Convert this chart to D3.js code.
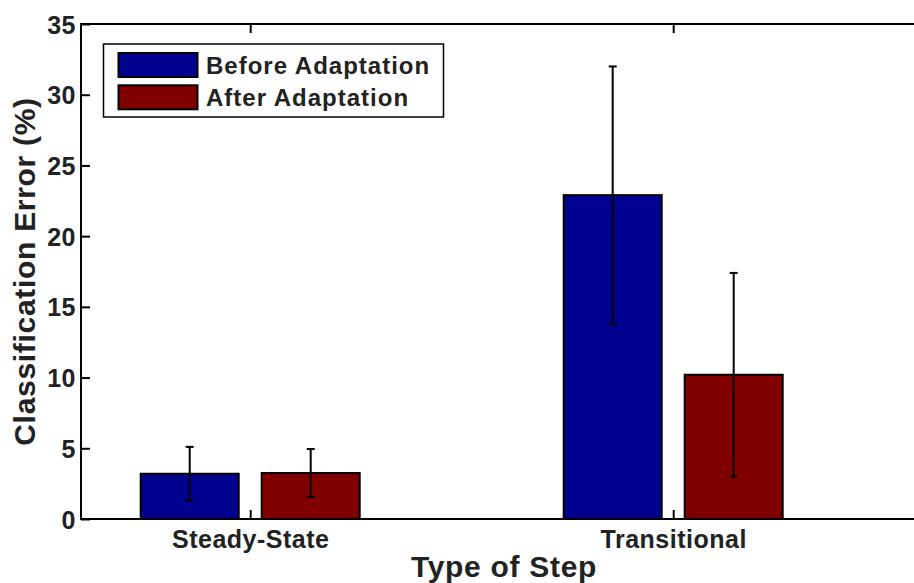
<!DOCTYPE html>
<html>
<head>
<meta charset="utf-8">
<script src="https://cdn.jsdelivr.net/npm/d3@7/dist/d3.min.js"></script>
<style>
  html, body { margin: 0; padding: 0; background: #fff; }
  svg { display: block; }
  text { font-family: "Liberation Sans", Arial, Helvetica, sans-serif; font-weight: bold; fill: #222; }
</style>
</head>
<body>
<svg id="chart" width="914" height="583"></svg>
<script>
// Step types on the x axis
const categories = ["Steady-State", "Transitional"];
// Series shown for each step type
const seriesNames = ["Before Adaptation", "After Adaptation"];
const seriesColors = ["#00008f", "#800000"];
// Mean classification error (%) per series, one value per category
const beforeValues = [3.2, 22.9];
const afterValues = [3.25, 10.2];
// Error bar half-lengths (%)
const beforeErrors = [1.9, 9.1];
const afterErrors = [1.7, 7.2];
// Y axis ticks
const yTicks = [0, 5, 10, 15, 20, 25, 30, 35];

const svg = d3.select("#chart");

const plotLeft = 81, plotRight = 927, plotTop = 24, plotBottom = 519;

// Category positions 1 and 2 on a numeric axis
const x = d3.scaleLinear().domain([0.6, 2.6]).range([plotLeft, plotRight]);
const y = d3.scaleLinear().domain([0, 35]).range([plotBottom, plotTop]);

const groupHalf = 109.5;
const inner = d3.scaleBand().domain(seriesNames).range([-groupHalf, groupHalf]).paddingInner(0.19);

const values = [beforeValues, afterValues];
const errors = [beforeErrors, afterErrors];

const data = [];
categories.forEach((c, ci) => {
  seriesNames.forEach((s, si) => {
    data.push({ cat: c, ci: ci + 1, series: s, si, value: values[si][ci], err: errors[si][ci] });
  });
});

// Bars
svg.append("g").selectAll("rect")
  .data(data)
  .join("rect")
  .attr("x", d => x(d.ci) + inner(d.series))
  .attr("width", inner.bandwidth())
  .attr("y", d => y(d.value))
  .attr("height", d => y(0) - y(d.value))
  .attr("fill", d => seriesColors[d.si])
  .attr("stroke", "#000")
  .attr("stroke-width", 2);

// Error bars
const eb = svg.append("g").attr("stroke", "#000").attr("stroke-width", 2);
data.forEach(d => {
  const cx = x(d.ci) + inner(d.series) + inner.bandwidth() / 2;
  const y1 = y(d.value + d.err), y0 = y(d.value - d.err);
  eb.append("line").attr("x1", cx).attr("x2", cx).attr("y1", y1).attr("y2", y0);
  eb.append("line").attr("x1", cx - 4).attr("x2", cx + 4).attr("y1", y1).attr("y2", y1);
  eb.append("line").attr("x1", cx - 4).attr("x2", cx + 4).attr("y1", y0).attr("y2", y0);
});

// Axes box (inward ticks)
const axisG = svg.append("g");
const yAxis = d3.axisLeft(y).tickValues(yTicks).tickSize(-9).tickPadding(5).tickFormat(d3.format("d"));
const gy = axisG.append("g").attr("transform", `translate(${plotLeft},0)`).call(yAxis);
gy.select(".domain").remove();
gy.selectAll(".tick line").attr("stroke", "#000").attr("stroke-width", 2);
gy.selectAll(".tick text").attr("font-size", 25).attr("fill", "#222").attr("dy", "0.36em")
  .attr("letter-spacing", 0.5)
  .attr("font-family", "Liberation Sans, Arial, sans-serif").attr("font-weight", "bold");

const xAxis = d3.axisBottom(x).tickValues([1, 2]).tickSize(-9).tickPadding(11)
  .tickFormat(d => categories[d - 1]);
const gx = axisG.append("g").attr("transform", `translate(0,${plotBottom})`).call(xAxis);
gx.select(".domain").remove();
gx.selectAll(".tick line").attr("stroke", "#000").attr("stroke-width", 2);
gx.selectAll(".tick text").attr("font-size", 25).attr("fill", "#222")
  .attr("letter-spacing", 0.5)
  .attr("font-family", "Liberation Sans, Arial, sans-serif").attr("font-weight", "bold");

const xTop = d3.axisTop(x).tickValues([1, 2]).tickSize(-9).tickFormat("");
const gxt = axisG.append("g").attr("transform", `translate(0,${plotTop})`).call(xTop);
gxt.select(".domain").remove();
gxt.selectAll(".tick line").attr("stroke", "#000").attr("stroke-width", 2);

const yRight = d3.axisRight(y).tickValues(yTicks).tickSize(-9).tickFormat("");
const gyr = axisG.append("g").attr("transform", `translate(${plotRight},0)`).call(yRight);
gyr.select(".domain").remove();
gyr.selectAll(".tick line").attr("stroke", "#000").attr("stroke-width", 2);

svg.append("rect")
  .attr("x", plotLeft).attr("y", plotTop)
  .attr("width", plotRight - plotLeft).attr("height", plotBottom - plotTop)
  .attr("fill", "none").attr("stroke", "#000").attr("stroke-width", 2);

// Axis titles
svg.append("text")
  .attr("x", (plotLeft + plotRight) / 2).attr("y", 577)
  .attr("text-anchor", "middle").attr("font-size", 30)
  .attr("letter-spacing", 0.7)
  .text("Type of Step");

svg.append("text")
  .attr("transform", `translate(35,${(plotTop + plotBottom) / 2}) rotate(-90)`)
  .attr("text-anchor", "middle").attr("font-size", 30)
  .attr("letter-spacing", 0.7)
  .text("Classification Error (%)");

// Legend
const lg = svg.append("g");
lg.append("rect")
  .attr("x", 103.5).attr("y", 44).attr("width", 340).attr("height", 73)
  .attr("fill", "#fff").attr("stroke", "#000").attr("stroke-width", 1.5);
seriesNames.forEach((s, i) => {
  const yy = 53 + i * 32.3;
  lg.append("rect")
    .attr("x", 118.5).attr("y", yy).attr("width", 79).attr("height", 24)
    .attr("fill", seriesColors[i]).attr("stroke", "#000").attr("stroke-width", 2);
  lg.append("text")
    .attr("x", 206).attr("y", yy + 20.5)
    .attr("font-size", 24)
    .attr("letter-spacing", 1)
    .text(s);
});
</script>
</body>
</html>
